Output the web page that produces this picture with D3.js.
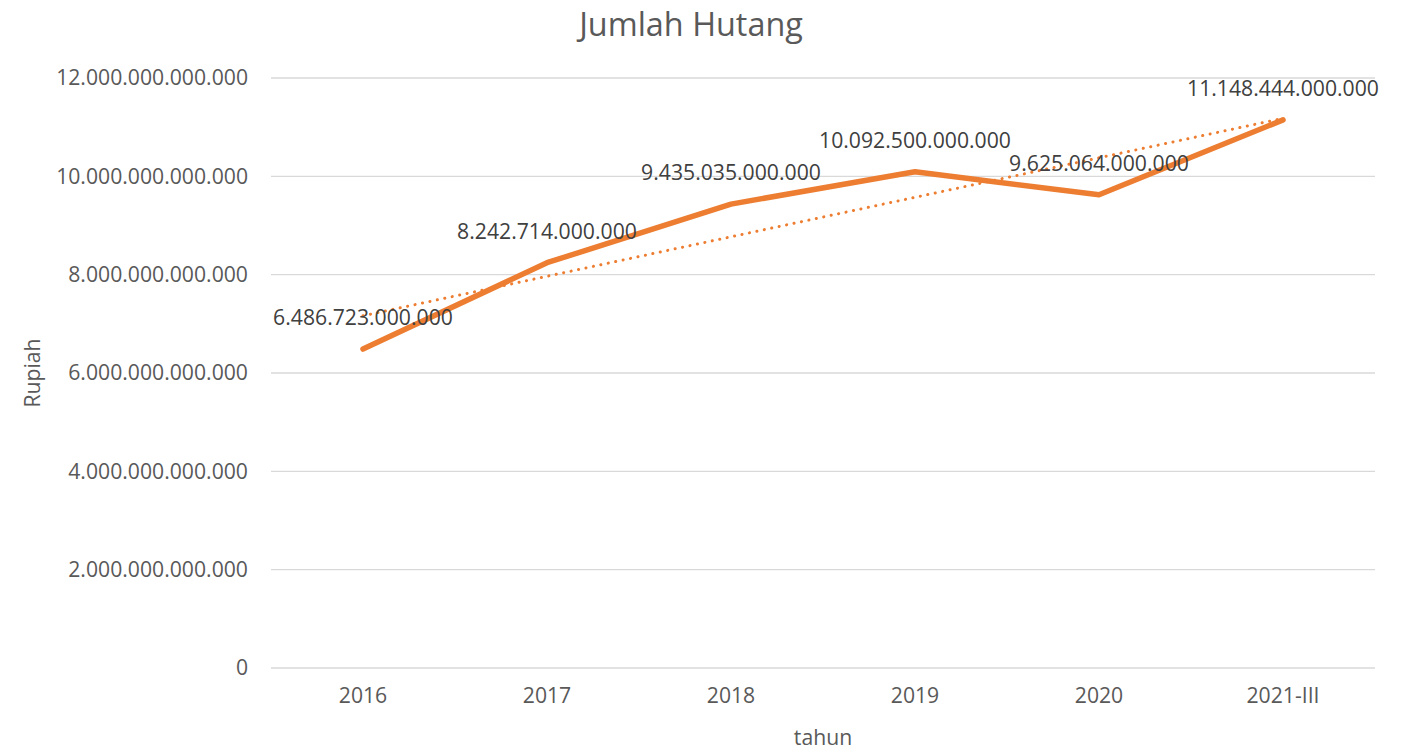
<!DOCTYPE html>
<html><head><meta charset="utf-8">
<script src="https://cdn.jsdelivr.net/npm/d3@7"></script>
<style>body{margin:0;background:#fff}svg{display:block}text{font-family:"Open Sans",sans-serif}</style>
</head><body><svg id="c" width="1409" height="751"></svg>
<script>
const categories = ["2016","2017","2018","2019","2020","2021-III"];
const values = [6486723000000, 8242714000000, 9435035000000, 10092500000000, 9625064000000, 11148444000000];
const yTicks = [0, 2e12, 4e12, 6e12, 8e12, 10e12, 12e12];
const title = "Jumlah Hutang";
const xTitle = "tahun";
const yTitle = "Rupiah";

const svg = d3.select("#c");
const L = 271, R = 1375, T = 78, B = 668;
const x = d3.scaleBand().domain(categories).range([L, R]);
const y = d3.scaleLinear().domain([0, 12e12]).range([B, T]);
const fmt = v => d3.format(",.0f")(v).replace(/,/g, ".");
const cx = c => x(c) + x.bandwidth() / 2;
const FS = 21.2;

// grid
svg.append("g").selectAll("line").data(yTicks).join("line")
  .attr("x1", L).attr("x2", R).attr("y1", d => y(d)).attr("y2", d => y(d))
  .attr("stroke", "#d9d9d9").attr("stroke-width", 1.3);

// y axis labels
const ya = svg.append("g").attr("transform", `translate(${L - 23},0)`)
  .call(d3.axisLeft(y).tickValues(yTicks).tickFormat(fmt).tickSize(0).tickPadding(0));
ya.select(".domain").remove();
ya.selectAll("text").attr("font-size", FS).attr("fill", "#595959").attr("font-family", "Open Sans");

// x axis labels
const xa = svg.append("g").attr("transform", `translate(0,${B + 20})`)
  .call(d3.axisBottom(x).tickSize(0).tickPadding(0));
xa.select(".domain").remove();
xa.selectAll("text").attr("font-size", FS).attr("fill", "#595959").attr("font-family", "Open Sans").attr("dy", "0.71em");

// trendline (linear regression)
const xs = categories.map((c, i) => i + 1);
const n = xs.length, mx = d3.mean(xs), my = d3.mean(values);
const slope = d3.sum(xs, (xi, i) => (xi - mx) * (values[i] - my)) / d3.sum(xs, xi => (xi - mx) ** 2);
const icpt = my - slope * mx;
svg.append("line")
  .attr("x1", cx(categories[0])).attr("y1", y(icpt + slope * 1))
  .attr("x2", cx(categories[n - 1])).attr("y2", y(icpt + slope * n))
  .attr("stroke", "#ED7D31").attr("stroke-width", 3).attr("stroke-dasharray", "0.1 7.5").attr("stroke-linecap", "round");

// line
svg.append("path").datum(values)
  .attr("d", d3.line().x((d, i) => cx(categories[i])).y(d => y(d)))
  .attr("fill", "none").attr("stroke", "#ED7D31").attr("stroke-width", 5.5)
  .attr("stroke-linecap", "round").attr("stroke-linejoin", "round");

// data labels
svg.append("g").selectAll("text").data(values).join("text")
  .attr("x", (d, i) => cx(categories[i])).attr("y", d => y(d) - 24)
  .attr("text-anchor", "middle").attr("font-size", FS).attr("fill", "#404040").text(fmt);

// titles
svg.append("text").attr("x", 691).attr("y", 36).attr("text-anchor", "middle")
  .attr("font-size", 32.4).attr("fill", "#595959").text(title);
svg.append("text").attr("x", (L + R) / 2).attr("y", 745).attr("text-anchor", "middle")
  .attr("font-size", FS).attr("fill", "#595959").text(xTitle);
svg.append("text").attr("transform", `translate(40,${(T + B) / 2}) rotate(-90)`).attr("text-anchor", "middle")
  .attr("font-size", FS).attr("fill", "#595959").text(yTitle);
</script></body></html>
